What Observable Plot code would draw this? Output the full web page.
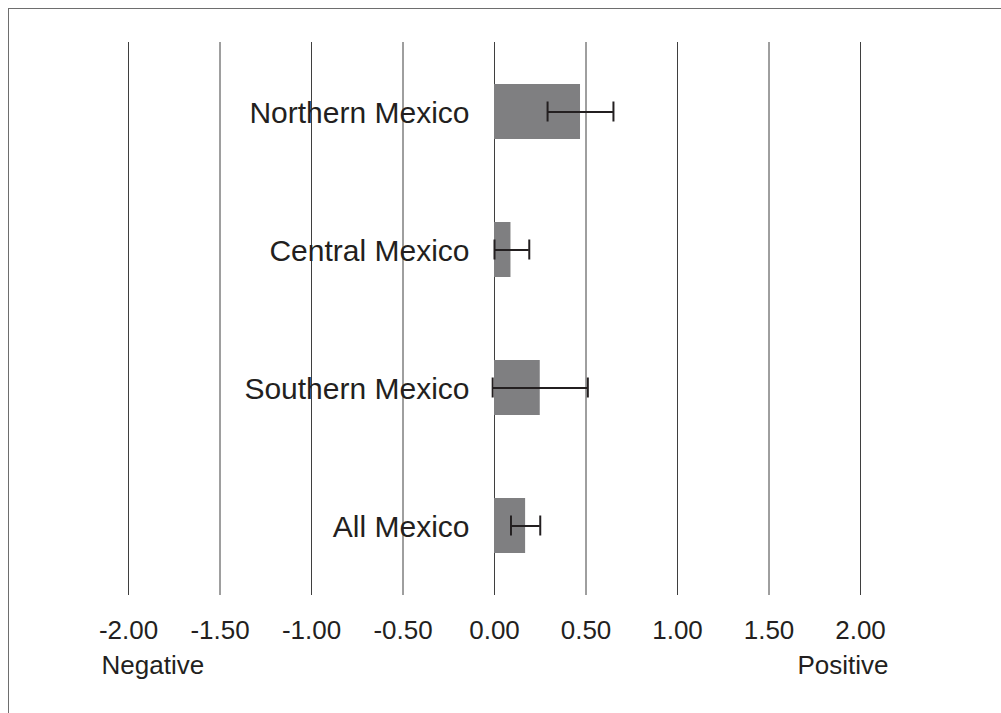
<!DOCTYPE html>
<html>
<head>
<meta charset="utf-8">
<script src="https://cdn.jsdelivr.net/npm/d3@7"></script>
<script src="https://cdn.jsdelivr.net/npm/@observablehq/plot@0.6"></script>
<style>
  html, body { margin: 0; padding: 0; background: #fff; }
  #wrap { position: relative; width: 1001px; height: 713px; overflow: hidden; }
  #border { position: absolute; left: 8px; top: 8px; right: 0; bottom: 0;
            border-left: 1.5px solid #6e6e6e; border-top: 1.5px solid #6e6e6e; pointer-events: none; }
  #chart { position: absolute; left: 0; top: 0; }
</style>
</head>
<body>
<div id="wrap"><div id="chart"></div><div id="border"></div></div>
<script>
const regions = ["Northern Mexico", "Central Mexico", "Southern Mexico", "All Mexico"];
const values = [0.47, 0.09, 0.25, 0.17];
const lower = [0.29, 0.0, -0.01, 0.09];
const upper = [0.65, 0.19, 0.51, 0.25];
const xTicks = [-2, -1.5, -1, -0.5, 0, 0.5, 1, 1.5, 2];
const endLabels = [{x: -2, text: "Negative"}, {x: 2, text: "Positive"}];

const data = regions.map((r, i) => ({region: r, value: values[i], lo: lower[i], hi: upper[i]}));
const textColor = "#231f20";
const fmt = (d) => d3.format(".2f")(d).replace("\u2212", "-");

const chart = Plot.plot({
  width: 1001,
  height: 713,
  marginLeft: 128,
  marginRight: 141,
  marginTop: 42,
  marginBottom: 118,
  style: {fontFamily: "Liberation Sans, Arial, sans-serif", color: textColor, background: "transparent"},
  x: {domain: [-2, 2], label: null},
  y: {domain: regions, paddingInner: 0.6, paddingOuter: 0.3, axis: null, label: null},
  marks: [
    Plot.ruleX(xTicks, {stroke: "#3f3f3f", strokeWidth: 1}),
    Plot.barX(data, {x: "value", y: "region", fill: "#7f7f81"}),
    Plot.ruleY(data, {x1: "lo", x2: "hi", y: "region", stroke: textColor, strokeWidth: 2}),
    Plot.tickX(data, {x: "lo", y: "region", stroke: textColor, strokeWidth: 2, insetTop: 17.5, insetBottom: 17.5}),
    Plot.tickX(data, {x: "hi", y: "region", stroke: textColor, strokeWidth: 2, insetTop: 17.5, insetBottom: 17.5}),
    Plot.text(data, {x: 0, y: "region", text: "region", textAnchor: "end", dx: -25, dy: 1, fontSize: 30, fill: textColor}),
    Plot.axisX({ticks: xTicks, tickSize: 0, tickPadding: 25, tickFormat: fmt, fontSize: 26, label: null, fill: textColor}),
    Plot.text(endLabels.slice(0, 1), {x: "x", text: "text", frameAnchor: "bottom", lineAnchor: "top", textAnchor: "start", dx: -27, dy: 60, fontSize: 26, fill: textColor}),
    Plot.text(endLabels.slice(1), {x: "x", text: "text", frameAnchor: "bottom", lineAnchor: "top", textAnchor: "end", dx: 28, dy: 60, fontSize: 26, fill: textColor})
  ]
});
document.getElementById("chart").appendChild(chart);
</script>
</body>
</html>
